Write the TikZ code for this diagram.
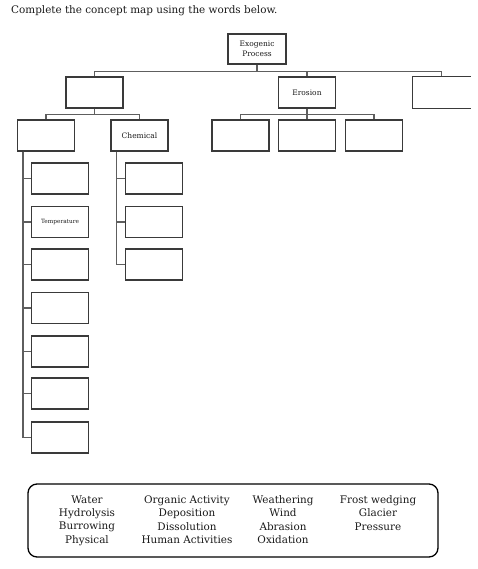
\documentclass[tikz,border=0pt]{standalone}
\usepackage{fontspec}
\setmainfont{DejaVu Serif}
\definecolor{boxc}{HTML}{3A3A3A}
\definecolor{linec}{HTML}{5E5E5E}
\definecolor{txtc}{HTML}{1A1A1A}
\begin{document}
\begin{tikzpicture}[x=1pt,y=-1pt]
\tikzset{
  box/.style={draw=boxc, line width=1.1pt, minimum width=57pt, minimum height=31pt, inner sep=0pt,
    font=\fontsize{7.5}{10}\selectfont, align=center, text=txtc},
  smallbox/.style={box, font=\fontsize{5.8}{7}\selectfont},
  link/.style={draw=linec, line width=1.5pt},
  word/.style={align=center, font=\fontsize{10.4}{13.3}\selectfont, inner sep=0pt, anchor=north, text=txtc},
}
\useasboundingbox (0,0) rectangle (478,569);

\node[anchor=base west, inner sep=0pt, font=\fontsize{10.4}{12}\selectfont, text=txtc] (title) at (11,13.5)
  {Complete the concept map using the words below.};

% level 0/1
\node[box, minimum width=58pt, minimum height=30pt] (exo) at (257,49) {Exogenic\\Process};
\node[box] (phys) at (94.5,92.5) {};
\node[box] (ero) at (307,92.5) {Erosion};
\node[box, draw=none] (dep) at (441.5,92.5) {};
\draw[draw=boxc, line width=1.1pt] (dep.north east) -- (dep.north west) -- (dep.south west) -- (dep.south east);

% level 2
\node[box] (ls) at (46,135.5) {};
\node[box] (chem) at (139.5,135.5) {Chemical};
\node[box] (e1) at (240.5,135.5) {};
\node[box] (e2) at (307,135.5) {};
\node[box] (e3) at (374,135.5) {};

% physical column
\node[box] (p1) at (60,178.5) {};
\node[smallbox] (p2) at (60,222) {Temperature};
\node[box] (p3) at (60,264.5) {};
\node[box] (p4) at (60,308) {};
\node[box] (p5) at (60,351.5) {};
\node[box] (p6) at (60,393.5) {};
\node[box] (p7) at (60,437.5) {};

% chemical column
\node[box] (c1) at (154,178.5) {};
\node[box] (c2) at (154,222) {};
\node[box] (c3) at (154,264.5) {};

% connectors
\foreach \c in {phys,ero,dep} \draw[link] (exo.south) -- ++(0,7) -| (\c.north);
\foreach \c in {ls,chem} \draw[link] (phys.south) -- ++(0,6) -| (\c.north);
\foreach \c in {e1,e2,e3} \draw[link] (ero.south) -- ++(0,6) -| (\c.north);
\foreach \c in {p1,p2,p3,p4,p5,p6,p7} \draw[link] ([xshift=6pt]ls.south west) |- (\c.west);
\foreach \c in {c1,c2,c3} \draw[link] ([xshift=6pt]chem.south west) |- (\c.west);

% word bank
\node[draw=black, line width=1.3pt, rounded corners=9pt, minimum width=410pt, minimum height=73pt, inner sep=0pt] (bank) at (233,520.5) {};
\node[word] (w1) at (87,495.5) {Water\\Hydrolysis\\Burrowing\\Physical};
\node[word] (w2) at (187,495.5) {Organic Activity\\Deposition\\Dissolution\\Human Activities};
\node[word] (w3) at (283,495.5) {Weathering\\Wind\\Abrasion\\Oxidation};
\node[word] (w4) at (378,495.5) {Frost wedging\\Glacier\\Pressure};
\end{tikzpicture}
\end{document}
